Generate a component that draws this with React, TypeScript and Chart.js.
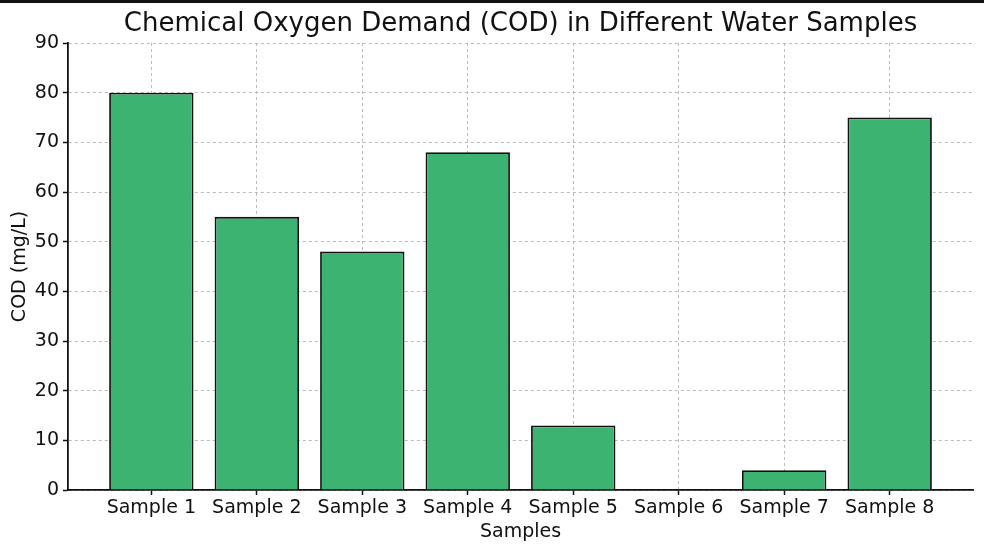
import React, { useEffect, useRef } from "react";
import { Chart, registerables } from "chart.js";

Chart.register(...registerables);

const titleText = "Chemical Oxygen Demand (COD) in Different Water Samples";
const categories = ["Sample 1", "Sample 2", "Sample 3", "Sample 4", "Sample 5", "Sample 6", "Sample 7", "Sample 8"];
const codValues = [80, 55, 48, 68, 13, 0, 4, 75];
const yTicks = [0, 10, 20, 30, 40, 50, 60, 70, 80, 90];

const plotTitle = {
  id: "plotTitle",
  afterDraw(chart: any) {
    const { ctx, chartArea } = chart;
    ctx.save();
    ctx.font = "26px 'DejaVu Sans', sans-serif";
    ctx.fillStyle = "#111";
    ctx.textAlign = "center";
    ctx.textBaseline = "middle";
    ctx.fillText(titleText, (chartArea.left + chartArea.right) / 2, 24);
    ctx.restore();
  },
};

export default function App() {
  const ref = useRef<HTMLCanvasElement | null>(null);
  useEffect(() => {
    document.body.style.margin = "0";
    const ctx = ref.current;
    if (!ctx) return;
    Chart.defaults.font.family = "'DejaVu Sans', sans-serif";
    Chart.defaults.color = "#000";
    const gridCommon = {
      color: "rgba(170,170,170,0.8)",
      lineWidth: 1,
      tickLength: 5,
      tickColor: "#111",
      tickWidth: 1.5,
      tickBorderDash: [],
      offset: false,
    };
    const chart = new Chart(ctx, {
      type: "bar",
      data: {
        datasets: [
          {
            data: codValues.map((v, i) => ({ x: i, y: v })),
            backgroundColor: "#3cb371",
            borderColor: "#111",
            borderWidth: 1.8,
            barPercentage: 0.8,
            categoryPercentage: 1,
          },
        ],
      },
      options: {
        animation: false,
        responsive: false,
        maintainAspectRatio: false,
        layout: { padding: { left: 0, right: 11, top: 43, bottom: 0 } },
        plugins: {
          legend: { display: false },
          tooltip: { enabled: false },
          title: { display: false },
        },
        scales: {
          x: {
            type: "linear",
            min: -0.79,
            max: 7.79,
            offset: false,
            z: 1,
            afterBuildTicks: (scale: any) => {
              scale.ticks = categories.map((_, i) => ({ value: i }));
            },
            afterFit: (scale: any) => {
              scale.height = 55;
            },
            ticks: {
              callback: (v: any) => categories[Math.round(Number(v))] ?? "",
              font: { size: 19 },
              color: "#111",
              padding: 2,
              maxRotation: 0,
              autoSkip: false,
            },
            grid: gridCommon as any,
            border: { display: true, color: "#111", width: 1.8, dash: [3, 3] },
            title: {
              display: true,
              text: "Samples",
              font: { size: 19 },
              color: "#111",
              padding: { top: 0, bottom: 2 },
            },
          },
          y: {
            min: 0,
            max: 90,
            z: 1,
            afterBuildTicks: (scale: any) => {
              scale.ticks = yTicks.map((v) => ({ value: v }));
            },
            afterFit: (scale: any) => {
              scale.width = 68;
            },
            ticks: {
              font: { size: 19 },
              color: "#111",
              padding: 4,
            },
            grid: gridCommon as any,
            border: { display: true, color: "#111", width: 1.8, dash: [3, 3] },
            title: {
              display: true,
              text: "COD (mg/L)",
              font: { size: 19 },
              color: "#111",
              padding: { top: 9, bottom: 2 },
            },
          },
        },
      } as any,
      plugins: [plotTitle],
    });
    return () => chart.destroy();
  }, []);
  return (
    <div style={{ width: 984, height: 545, position: "relative", background: "#fff" }}>
      <div style={{ position: "absolute", left: 0, top: 0, width: 984, height: 3, background: "#111" }} />
      <canvas ref={ref} width={984} height={545} style={{ display: "block", width: 984, height: 545 }} />
    </div>
  );
}
